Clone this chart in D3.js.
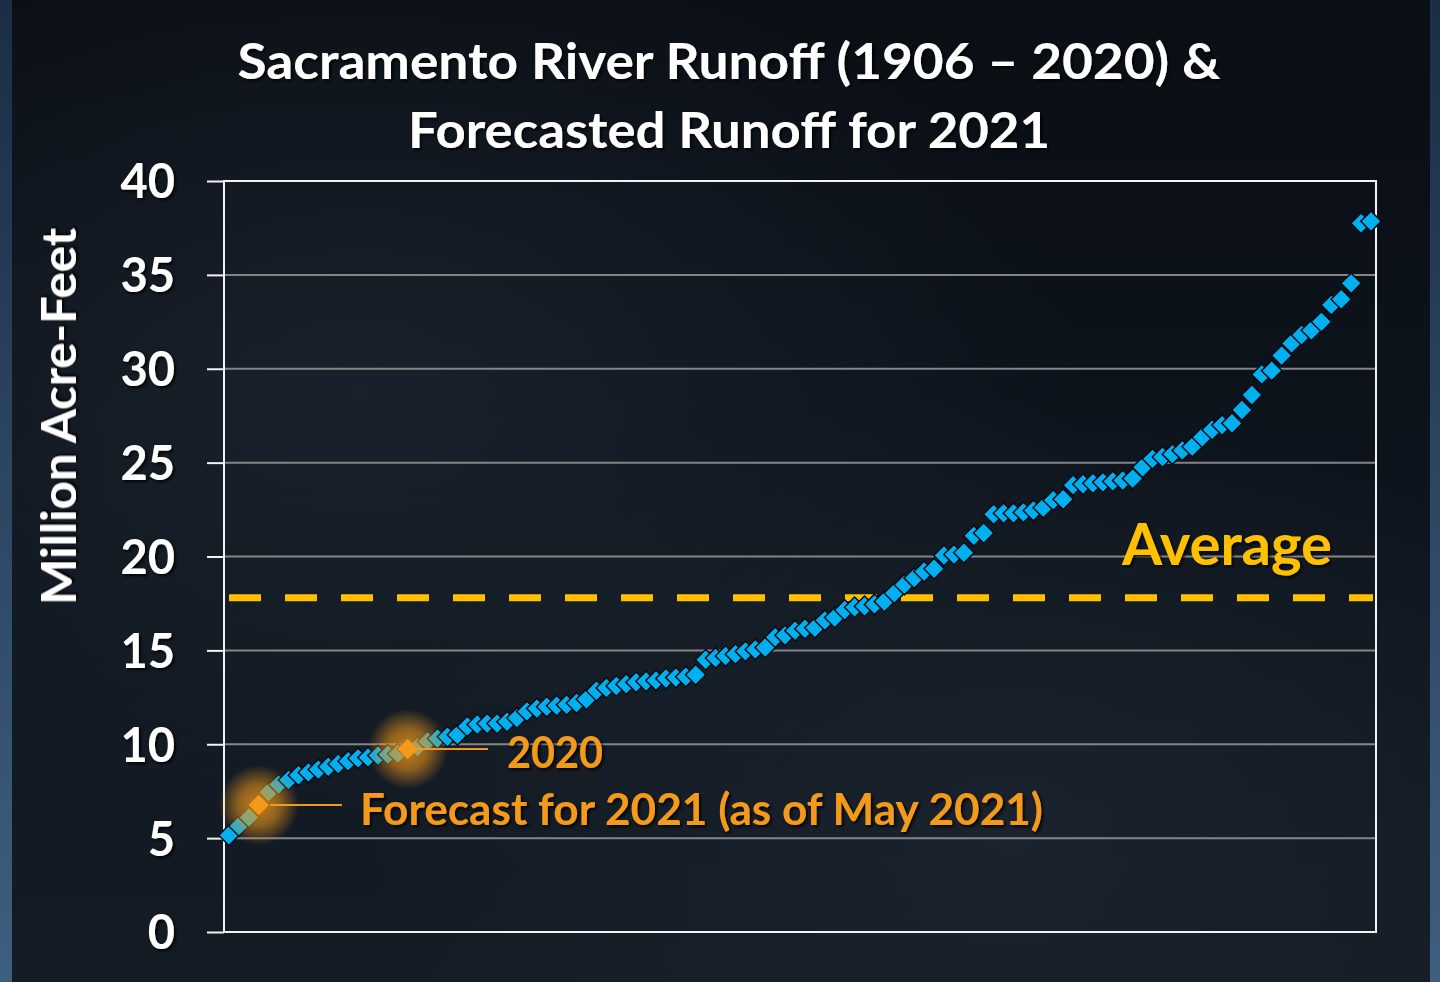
<!DOCTYPE html>
<html>
<head>
<meta charset="utf-8">
<script src="https://cdn.jsdelivr.net/npm/d3@7"></script>
<style>
  html, body { margin: 0; padding: 0; background: #0b1119; }
  svg { display: block; }
  text { font-family: Lato, "Open Sans", sans-serif; font-weight: 700; }
</style>
</head>
<body>
<svg></svg>
<script>
// ─── DATA ─────────────────────────────────────────────────────────────────────

// annual runoff 1906–2020 plus the 2021 forecast, sorted low → high (MAF)
const runoff = [
  5.15, 5.65, 6.1, 6.76, 7.45, 7.85, 8.1, 8.35, 8.5, 8.65,
  8.8, 8.95, 9.1, 9.25, 9.3, 9.4, 9.45, 9.5, 9.75, 9.85,
  10.15, 10.3, 10.4, 10.5, 10.95, 11.05, 11.1, 11.1, 11.2, 11.4,
  11.75, 11.9, 12.0, 12.05, 12.1, 12.2, 12.4, 12.85, 13.0, 13.1,
  13.2, 13.3, 13.35, 13.4, 13.5, 13.55, 13.6, 13.7, 14.5, 14.6,
  14.7, 14.8, 14.95, 15.05, 15.15, 15.7, 15.8, 16.05, 16.15, 16.2,
  16.6, 16.75, 17.15, 17.3, 17.35, 17.45, 17.6, 18.05, 18.5, 18.85,
  19.2, 19.35, 20.05, 20.1, 20.2, 21.1, 21.25, 22.25, 22.3, 22.3,
  22.35, 22.45, 22.6, 23.0, 23.05, 23.8, 23.85, 23.9, 23.95, 24.0,
  24.05, 24.15, 24.75, 25.2, 25.3, 25.45, 25.65, 25.85, 26.35, 26.75,
  27.0, 27.1, 27.8, 28.6, 29.7, 29.9, 30.7, 31.35, 31.8, 32.05,
  32.5, 33.4, 33.7, 34.55, 37.75, 37.85
];
const average = 17.8;
const yTicks = [0, 5, 10, 15, 20, 25, 30, 35, 40];

// highlighted years: rank (1-based) in the sorted list and label text
const highlightRanks = [19, 4];
const highlightLabels = ["2020", "Forecast for 2021 (as of May 2021)"];

const titleLines = ["Sacramento River Runoff (1906 \u2013 2020) &", "Forecasted Runoff for 2021"];
const yTitle = "Million Acre-Feet";

// ─── LAYOUT ───────────────────────────────────────────────────────────────────

const width = 1440,
  height = 982,
  plot = { left: 224, right: 1376, top: 181, bottom: 932 };

const blue = "#00b0f0",
  gold = "#ffc000",
  orange = "#f39a1a";

const svg = d3.select("svg").attr("width", width).attr("height", height);
const defs = svg.append("defs");

// ─── BACKGROUND ───────────────────────────────────────────────────────────────

const bg = defs.append("linearGradient").attr("id", "bg")
  .attr("x1", 0).attr("y1", 0).attr("x2", 0).attr("y2", 1);
bg.append("stop").attr("offset", "0%").attr("stop-color", "#0a0e15");
bg.append("stop").attr("offset", "55%").attr("stop-color", "#0e151e");
bg.append("stop").attr("offset", "100%").attr("stop-color", "#141c26");

const haze = defs.append("radialGradient").attr("id", "haze")
  .attr("cx", 0.25).attr("cy", 0.4).attr("r", 0.5);
haze.append("stop").attr("offset", "0%").attr("stop-color", "#1e2733").attr("stop-opacity", 0.7);
haze.append("stop").attr("offset", "100%").attr("stop-color", "#1e2733").attr("stop-opacity", 0);

const haze2 = defs.append("radialGradient").attr("id", "haze2")
  .attr("cx", 0.7).attr("cy", 0.85).attr("r", 0.45);
haze2.append("stop").attr("offset", "0%").attr("stop-color", "#1c2530").attr("stop-opacity", 0.8);
haze2.append("stop").attr("offset", "100%").attr("stop-color", "#1c2530").attr("stop-opacity", 0);

const edge = defs.append("linearGradient").attr("id", "edge")
  .attr("x1", 0).attr("y1", 0).attr("x2", 0).attr("y2", 1);
edge.append("stop").attr("offset", "0%").attr("stop-color", "#1b2e45");
edge.append("stop").attr("offset", "100%").attr("stop-color", "#3f5f80");

svg.append("rect").attr("width", width).attr("height", height).attr("fill", "url(#bg)");
svg.append("rect").attr("width", width).attr("height", height).attr("fill", "url(#haze)");
svg.append("rect").attr("width", width).attr("height", height).attr("fill", "url(#haze2)");
svg.append("rect").attr("x", 0).attr("width", 12).attr("height", height).attr("fill", "url(#edge)");
svg.append("rect").attr("x", 1430).attr("width", 10).attr("height", height).attr("fill", "url(#edge)");

// text shadow + glow definitions
defs.append("filter").attr("id", "shadow")
  .attr("x", "-10%").attr("y", "-20%").attr("width", "130%").attr("height", "150%")
  .append("feDropShadow")
  .attr("dx", 2).attr("dy", 2).attr("stdDeviation", 1.5)
  .attr("flood-color", "#000").attr("flood-opacity", 0.85);

const glow = defs.append("radialGradient").attr("id", "glow");
glow.append("stop").attr("offset", "0%").attr("stop-color", orange).attr("stop-opacity", 0.8);
glow.append("stop").attr("offset", "50%").attr("stop-color", orange).attr("stop-opacity", 0.55);
glow.append("stop").attr("offset", "100%").attr("stop-color", orange).attr("stop-opacity", 0);

// ─── SCALES ───────────────────────────────────────────────────────────────────

const x = d3.scaleLinear()
  .domain([0.5, runoff.length + 0.5])
  .range([plot.left, plot.right]);

const y = d3.scaleLinear()
  .domain([0, 40])
  .range([plot.bottom, plot.top]);

// ─── TITLE ────────────────────────────────────────────────────────────────────

const titleSpec = [
  { cx: 729, base: 79, len: 983 },
  { cx: 729, base: 148, len: 642 }
];
svg.append("g").selectAll("text")
  .data(titleLines)
  .join("text")
  .attr("x", (d, i) => titleSpec[i].cx)
  .attr("y", (d, i) => titleSpec[i].base)
  .attr("text-anchor", "middle")
  .attr("font-size", 50)
  .attr("fill", "#fff")
  .attr("textLength", (d, i) => titleSpec[i].len)
  .attr("lengthAdjust", "spacingAndGlyphs")
  .attr("filter", "url(#shadow)")
  .text((d) => d);

// ─── GRID & AXES ──────────────────────────────────────────────────────────────

const grid = svg.append("g");

grid.selectAll("line.grid")
  .data(yTicks.filter((t) => t > 0 && t < 40))
  .join("line")
  .attr("class", "grid")
  .attr("x1", plot.left).attr("x2", plot.right)
  .attr("y1", (d) => y(d)).attr("y2", (d) => y(d))
  .attr("stroke", "#858585")
  .attr("stroke-width", 2);

// white plot frame
grid.append("rect")
  .attr("x", plot.left).attr("y", plot.top)
  .attr("width", plot.right - plot.left)
  .attr("height", plot.bottom - plot.top)
  .attr("fill", "none")
  .attr("stroke", "#f2f2f2")
  .attr("stroke-width", 2);

const yAxis = d3.axisLeft(y).tickValues(yTicks).tickSize(17).tickPadding(32).tickFormat(d3.format("d"));
const yAxisG = svg.append("g")
  .attr("transform", `translate(${plot.left},0)`)
  .call(yAxis);
yAxisG.select(".domain").remove();
yAxisG.selectAll(".tick line").attr("stroke", "#f2f2f2").attr("stroke-width", 2);
yAxisG.selectAll(".tick text")
  .attr("fill", "#fff")
  .attr("font-size", 47)
  .attr("font-family", "Lato, sans-serif")
  .attr("font-weight", 700)
  .attr("dy", "0.36em")
  .attr("filter", "url(#shadow)");

svg.append("text")
  .attr("transform", `translate(76,${(228 + 605) / 2}) rotate(-90)`)
  .attr("text-anchor", "middle")
  .attr("font-size", 48)
  .attr("fill", "#fff")
  .attr("textLength", 377)
  .attr("lengthAdjust", "spacingAndGlyphs")
  .attr("filter", "url(#shadow)")
  .text(yTitle);

// ─── AVERAGE LINE ─────────────────────────────────────────────────────────────

svg.append("line")
  .attr("x1", 208).attr("x2", plot.right - 3)
  .attr("y1", y(average)).attr("y2", y(average))
  .attr("stroke", gold)
  .attr("stroke-width", 7)
  .attr("stroke-dasharray", "32 24")
  .attr("stroke-dashoffset", 35);

svg.append("text")
  .attr("x", 1122).attr("y", 565)
  .attr("font-size", 58)
  .attr("fill", gold)
  .attr("textLength", 210)
  .attr("lengthAdjust", "spacingAndGlyphs")
  .attr("filter", "url(#shadow)")
  .text("Average");

// ─── POINTS ───────────────────────────────────────────────────────────────────

const diamond = d3.symbol().type(d3.symbolSquare).size(210);

svg.append("g")
  .selectAll("path")
  .data(runoff)
  .join("path")
  .attr("d", diamond)
  .attr("transform", (d, i) => `translate(${x(i + 1)},${y(d)}) rotate(45)`)
  .attr("fill", blue)
  .attr("stroke", "#050c14")
  .attr("stroke-width", 1.5);

// orange glow over the highlighted years, then the orange markers
const hl = highlightRanks.map((r, i) => ({ rank: r, value: runoff[r - 1], label: highlightLabels[i] }));

svg.append("g")
  .selectAll("circle")
  .data(hl)
  .join("circle")
  .attr("cx", (d) => x(d.rank))
  .attr("cy", (d) => y(d.value))
  .attr("r", 40)
  .attr("fill", "url(#glow)");

svg.append("g")
  .selectAll("path")
  .data(hl)
  .join("path")
  .attr("d", diamond)
  .attr("transform", (d) => `translate(${x(d.rank)},${y(d.value)}) rotate(45)`)
  .attr("fill", orange);

// ─── LABELS ───────────────────────────────────────────────────────────────────

const labelSpec = [
  { x1: 415, x2: 488, tx: 507, base: 768, len: 96 },
  { x1: 270, x2: 342, tx: 360, base: 825, len: 683 }
];

const labels = svg.append("g");
labels.selectAll("line")
  .data(hl)
  .join("line")
  .attr("x1", (d, i) => labelSpec[i].x1)
  .attr("x2", (d, i) => labelSpec[i].x2)
  .attr("y1", (d) => y(d.value))
  .attr("y2", (d) => y(d.value))
  .attr("stroke", orange)
  .attr("stroke-width", 2);

labels.selectAll("text")
  .data(hl)
  .join("text")
  .attr("x", (d, i) => labelSpec[i].tx)
  .attr("y", (d, i) => labelSpec[i].base)
  .attr("font-size", 44)
  .attr("fill", orange)
  .attr("textLength", (d, i) => labelSpec[i].len)
  .attr("lengthAdjust", "spacingAndGlyphs")
  .attr("filter", "url(#shadow)")
  .text((d) => d.label);
</script>
</body>
</html>
